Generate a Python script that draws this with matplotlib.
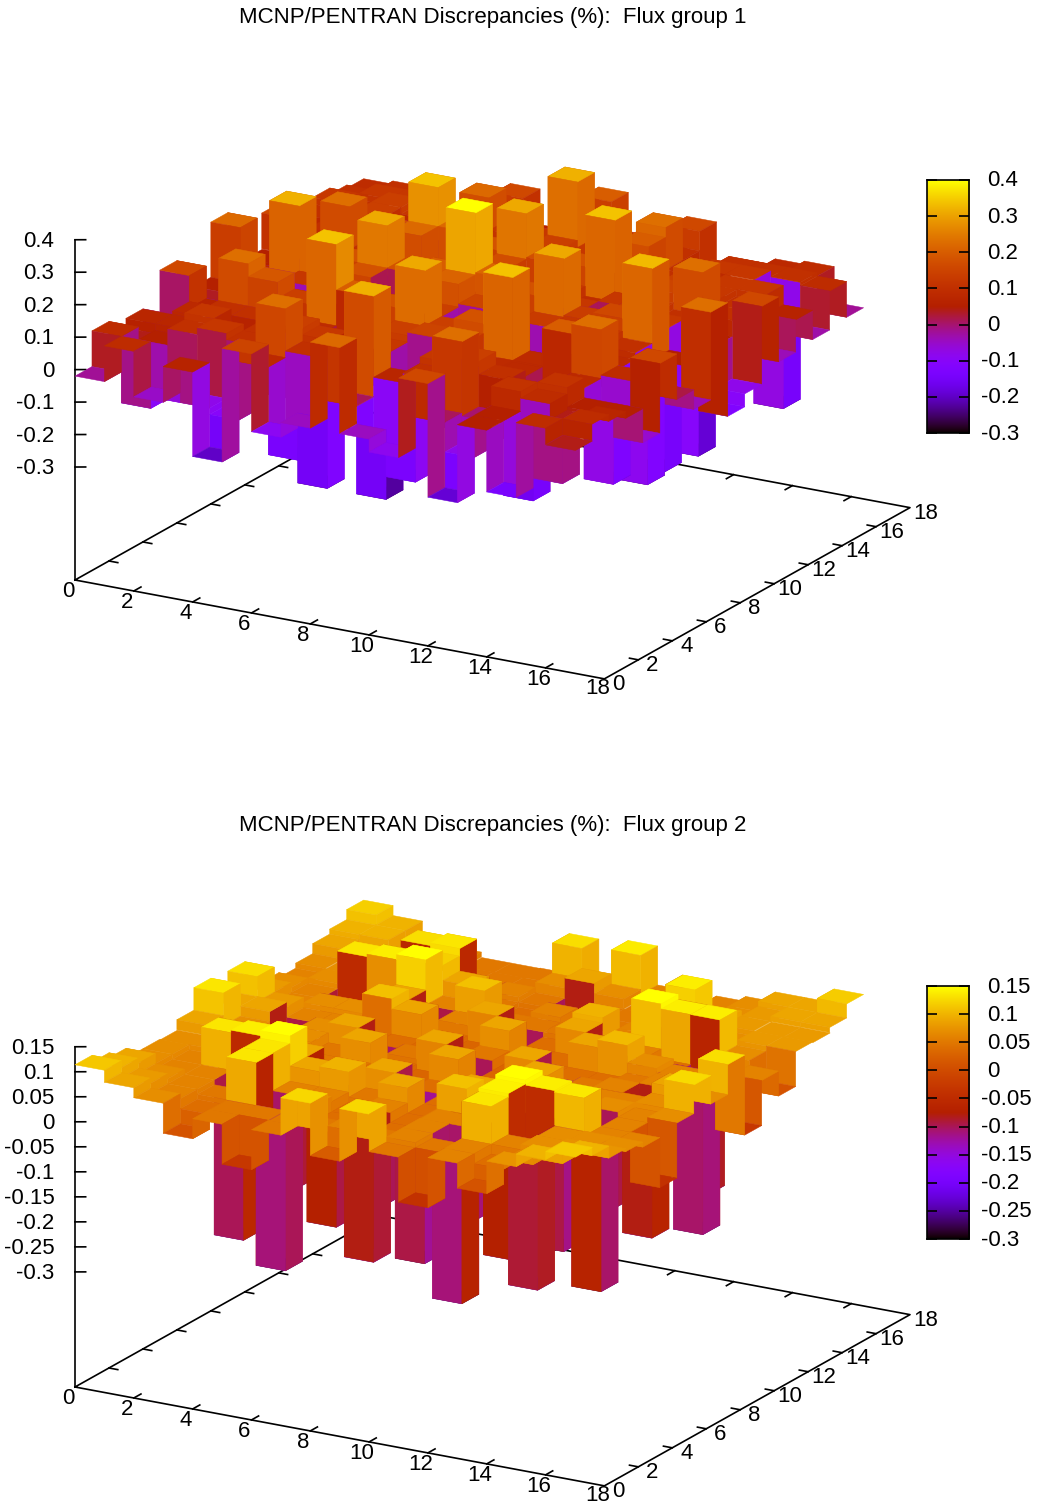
import numpy as np
import matplotlib
matplotlib.use("Agg")
import matplotlib.pyplot as plt
from mpl_toolkits.mplot3d.art3d import Poly3DCollection
from mpl_toolkits.mplot3d import proj3d

plt.rcParams['font.family'] = ['Liberation Sans', 'DejaVu Sans']

TITLE_1 = "MCNP/PENTRAN Discrepancies (%):  Flux group 1"
TITLE_2 = "MCNP/PENTRAN Discrepancies (%):  Flux group 2"

# rows: x cell 0..16, columns: y cell 0..16
group1 = [
 [-.02, .09, .04, .07,-.15, .16, .02, .05, .22, .05, .05, .16, .05, .10, .12, .10, .09],
 [ .09,-.115,.05, .07, .08, .06,-.20,-.22, .08,-.22, .05, .08, .10, .08, .10, .12, .10],
 [-.05,-.08, .10, .12, .10, .23, .08, .10, .32, .12, .10, .23, .12, .14, .14, .12, .08],
 [ .06,-.08, .12, .02, .10, .19,-.20, .12, .10, .14,-.18, .10, .14, .05, .12, .08, .06],
 [-.20,-.10, .10, .10, .08, .14,-.02, .10, .18, .10,-.18, .18,-.18, .10, .10, .06, .04],
 [ .15, .08, .23, .14, .09, .34, .12, .18, .31, .12, .22, .34, .14, .12, .22, .10, .16],
 [-.09,-.19, .10, .12,-.05, .20, .10,-.15, .18, .10, .12, .22,-.02, .10, .12, .08, .05],
 [-.045,-.26,.10, .02, .10, .18,-.05, .10, .20,-.02, .10, .18, .10, .12, .12,-.18, .08],
 [ .22, .01, .32, .12, .14, .31, .14, .21, .40, .12, .17, .31, .14, .14, .32, .08, .20],
 [-.045,-.26,.07,-.18, .15, .14,-.20, .15, .216,-.02,.10, .175,.10, .12, .12,-.18, .08],
 [-.085,-.19,.10, .12, .15, .18, .10, .10, .18, .10, .12, .18,-.02, .10, .12, .08, .05],
 [ .16, .01, .23, .14, .085,.34,-.20, .13, .31, .12, .09, .34, .14, .20, .23, .10, .16],
 [-.19,-.08, .00, .10, .08, .085,-.02,.10, .135,-.10,.12, .08, .12, .10, .10, .06, .04],
 [ .05, .05, .11,-.02,-.05, .20, .10, .12, .16, .14, .12, .15, .14, .05, .12, .10, .06],
 [-.14,-.18, .09, .11, .08, .23, .08, .10, .33, .12, .10, .23, .12, .12, .12, .10, .08],
 [ .09,-.11, .04, .05,-.20, .09,-.26,-.25, .05,-.26, .05, .10, .10, .12,-.26, .10, .09],
 [ .04, .09, .07, .05,-.055,.16, .02,-.04, .23,-.12,-.08, .16,-.04, .06,-.03, .09,-.02],
]
group2 = [
 [ .114, .10, .09, .07, .07, .07, .09, .135, .09, .13, .08, .07, .06, .07, .09, .10, .12],
 [ .09, .08, .07, .06, .06, .07, .07, .07, .09, .08, .06, .06, .07, .07, .08, .10, .10],
 [ .07, .06, .06, .06, .135,-.29, .07, .06,-.25, .06, .07,-.24, .135, .07, .07, .07, .07],
 [ .01, .04, .05,-.25, .14, .06, .07, .07, .07, .06, .07, .00, .14,-.25, .13, .06, .06],
 [ .05, .05, .135, .135, .15, .09, .05, .05, .09,-.03, .11, .09, .15, .12, .135, .05, .05],
 [-.03, .05,-.27, .06, .09,-.24, .05, .09,-.25, .04, .09,-.25, .06, .09,-.25, .05, .05],
 [ .05, .05, .07, .06, .10, .05, .04, .04, .05, .03, .04, .06, .11, .05, .06, .05, .05],
 [ .125, .05, .04, .04, .05, .09, .03, .03, .09, .03, .03, .09, .05, .04, .05, .07, .13],
 [ .02, .06,-.22, .06, .09,-.28, .04, .09,-.25, .05, .09,-.25, .05, .06,-.25, .09, .06],
 [ .125, .05, .04, .04, .04, .04, .03, .03, .03, .03, .03, .04, .05, .04, .05, .07, .138],
 [ .05, .06, .06, .06, .11, .09, .04, .04, .09, .04, .04, .09, .10, .05, .05, .05, .06],
 [-.04, .05,-.27, .06, .09,-.24, .05, .09,-.28, .04, .09,-.25, .06, .06,-.25, .05, .05],
 [ .06, .06, .135, .142, .15, .06, .05, .05, .05, .04, .105, .06, .15, .10, .14, .06, .06],
 [ .01, .04, .06,-.24, .14, .06, .06, .06, .06, .05, .07, .04, .14,-.24, .09, .07, .07],
 [ .075, .06, .07, .07, .136,-.27, .07, .06,-.22, .06, .06,-.27, .14, .07, .08, .08, .09],
 [ .10, .073, .074, .07, .06, .06, .06, .07, .09, .07, .06, .05, .07, .08, .08, .09, .09],
 [ .117, .10, .076, .07, .06,-.04, .07, .127, .07, .13,-.03, .06, .01, .08, .08, .09, .118],
]
z_ticks_1 = [-.3, -.2, -.1, 0, .1, .2, .3, .4]
z_labels_1 = ["-0.3", "-0.2", "-0.1", "0", "0.1", "0.2", "0.3", "0.4"]
z_ticks_2 = [-.3, -.25, -.2, -.15, -.1, -.05, 0, .05, .1, .15]
z_labels_2 = ["-0.3", "-0.25", "-0.2", "-0.15", "-0.1", "-0.05", "0", "0.05", "0.1", "0.15"]
xy_ticks = list(range(0, 19, 2))

W, H = 1038, 1507
FS = 16
fig = plt.figure(figsize=(W/100, H/100), dpi=100, facecolor='white')


def palette(g):
    g = np.clip(g, 0, 1)
    return (np.sqrt(g), g**3, max(np.sin(2*np.pi*g), 0))


def to_px(ax, x, y, z):
    px, py, _ = proj3d.proj_transform(x, y, z, ax.get_proj())
    return ax.transData.transform((px, py))


def panel(values, zmin, zmax, zbase, zticks, zlabels, title, y_base, y_title, y_box):
    vals = np.array(values)
    n = vals.shape[0]
    ax = fig.add_axes([0, 0, 1, 1], projection='3d', computed_zorder=False)
    ax.set_proj_type('ortho')
    ax.view_init(elev=18.87, azim=-60)
    ax.set_xlim(0, 18)
    ax.set_ylim(0, 18)
    ax.set_zlim(zbase, zmax)
    ax.set_box_aspect((612, 612, 360), zoom=1)
    ax.set_axis_off()
    ax.patch.set_alpha(0)
    ax.margins(0)
    # place the axes so that the base corners land on their pixels
    S0 = 800/W
    ax.set_position([0.1, 0.1*W/H, S0, S0*W/H])
    ax.apply_aspect()
    a = to_px(ax, 0, 0, zbase)
    b = to_px(ax, 18, 18, zbase)
    scale = (910-75)/(b[0]-a[0])
    S = S0*scale
    ax.set_position([0.1, 0.1*W/H, S, S*W/H])
    ax.apply_aspect()
    a = to_px(ax, 0, 0, zbase)
    left = 0.1 + (75-a[0])/W
    bottom = 0.1*W/H + ((H-y_base)-a[1])/H
    ax.set_position([left, bottom, S, S*W/H])
    ax.apply_aspect()

    def color(z):
        return palette((z-zmin)/(zmax-zmin))

    # base frame and tick marks
    line = dict(color='black', lw=1.2, zorder=1, clip_on=False)
    c = [(0, 0), (18, 0), (18, 18), (0, 18), (0, 0)]
    ax.plot(*zip(*c), [zbase]*5, **line)
    ax.plot([0, 0], [0, 0], [zbase, zmax], **line)
    for t in xy_ticks[1:-1]:
        ax.plot([t, t], [0, .42], [zbase]*2, **line)
        ax.plot([t, t], [18, 17.58], [zbase]*2, **line)
        ax.plot([0, .3], [t, t], [zbase]*2, **line)
        ax.plot([18, 17.7], [t, t], [zbase]*2, **line)
    for t in zticks:
        ax.plot([0, .27], [0, .16], [t, t], **line)

    # stepped surface, back to front
    order = 2
    for j in range(n-1, -1, -1):
        for i in range(n):
            z = vals[i, j]
            faces = [[(i, j, z), (i+1, j, z), (i+1, j+1, z), (i, j+1, z)]]
            cols = [color(z)]
            if i < n-1 and vals[i+1, j] != z:
                z2 = vals[i+1, j]
                faces.append([(i+1, j, z), (i+1, j+1, z), (i+1, j+1, z2), (i+1, j, z2)])
                cols.append(color((z+z2)/2))
            if j > 0 and vals[i, j-1] != z:
                z2 = vals[i, j-1]
                faces.append([(i, j, z), (i+1, j, z), (i+1, j, z2), (i, j, z2)])
                cols.append(color((z+z2)/2))
            pc = Poly3DCollection(faces, facecolors=cols, edgecolors=cols,
                                  linewidths=0.35, zorder=order, clip_on=False)
            ax.add_collection3d(pc, autolim=False)
            order += 1

    # tick labels
    def lab(x, y, z, s, dx, dy, ha='center'):
        p = to_px(ax, x, y, z)
        fig.text((p[0]+dx)/W, (p[1]-dy)/H, s, ha=ha, va='center', fontsize=FS)

    for t in xy_ticks:
        lab(t, 0, zbase, str(t), -7, 11.5 if t < 18 else 9.5)
        lab(18, t, zbase, str(t), 14 if t < 10 else 16, 5.5)
    for t, s in zip(zticks, zlabels):
        lab(0, 0, t, s, -20.5, 1.5, ha='right')

    fig.text(492.5/W, 1-y_title/H, title, ha='center', va='center', fontsize=FS)

    # colour box
    cax = fig.add_axes([927/W, 1-(y_box+253)/H, 42/W, 253/H])
    grad = np.linspace(zmin, zmax, 256)
    img = np.array([[palette((v-zmin)/(zmax-zmin))] for v in grad])
    cax.imshow(img, aspect='auto', origin='lower', extent=[0, 1, zmin, zmax])
    cax.set_xticks([])
    cax.set_yticks(zticks)
    cax.set_yticklabels([])
    cax.tick_params(axis='y', direction='in', length=7.5, width=1.2, left=True, right=True)
    for sp in cax.spines.values():
        sp.set_linewidth(1.2)
    for t, s in zip(zticks, zlabels):
        xt = 981.5 if s.startswith('-') else 987.5
        yt = np.interp(t, [zmin, zmax], [y_box+253, y_box])
        fig.text(xt/W, 1-(yt+1)/H, s, ha='left', va='center', fontsize=FS)


panel(group1, -.3, .4, -.648, z_ticks_1, z_labels_1, TITLE_1, 580, 17, 180)
panel(group2, -.3, .15, -.53, z_ticks_2, z_labels_2, TITLE_2, 1387, 825, 986)
fig.savefig('out.png', dpi=100, facecolor='white')
